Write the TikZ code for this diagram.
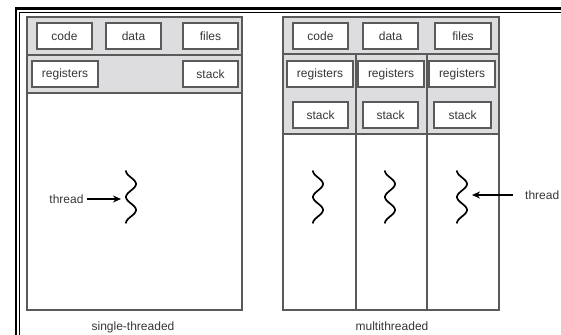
\documentclass[tikz,border=0pt]{standalone}
\usepackage{fontspec}
\setmainfont{Liberation Sans}
\usepackage{xcolor}
\definecolor{Black}{RGB}{0,0,0}
\definecolor{White}{RGB}{255,255,255}
\definecolor{Shade}{RGB}{221,221,224}
\definecolor{Edge}{RGB}{90,90,90}
\definecolor{Ink}{RGB}{55,55,55}
\usetikzlibrary{arrows.meta}
\tikzset{
	part/.style={draw=Edge, fill=White, line width=0.45mm, minimum height=26pt, inner sep=0pt, text=Ink, font=\fontsize{12}{14}\selectfont},
	caption/.style={align=center, text=Ink, font=\fontsize{12}{14}\selectfont},
	wiggle/.style={draw=Black, line width=0.6mm, line cap=round},
	pointer/.style={-{Stealth[length=8pt, width=7pt]}, draw=Black, line width=0.5mm}
}

\begin{document}
\begin{tikzpicture}[x=1pt, y=-1pt]
		
		\useasboundingbox (0,0) rectangle (561,334);
		\fill[White] (0,0) rectangle (561,334);
		
		% Frame
		\draw[-, draw=Black, line width=0.8mm] (16,340) -- (16,8.5) -- (570,8.5);
		\draw[-, draw=Black, line width=0.3mm] (19.8,340) -- (19.8,12) -- (570,12);
		
		% Single-threaded process
		\filldraw[-, fill=Shade, draw=Edge, line width=0.4mm] (27,17) rectangle (242,93);
		\draw[-, draw=Edge, line width=0.4mm] (27,55) -- (242,55);
		\draw[-, draw=Edge, line width=0.4mm] (27,93) rectangle (242,310);
		
		\node[part, minimum width=55pt] (code1) at (64.5,36) {code};
		\node[part, minimum width=55pt] (data1) at (133.5,36) {data};
		\node[part, minimum width=55pt] (files1) at (210.5,36) {files};
		\node[part, minimum width=66pt] (regs1) at (65,74) {registers};
		\node[part, minimum width=55pt] (stack1) at (210.5,74) {stack};
		
		% Multithreaded process
		\filldraw[-, fill=Shade, draw=Edge, line width=0.4mm] (283,17) rectangle (499,134);
		\draw[-, draw=Edge, line width=0.4mm] (283,54) -- (499,54);
		\draw[-, draw=Edge, line width=0.4mm] (283,134) rectangle (499,310);
		\draw[-, draw=Edge, line width=0.4mm] (356,54) -- (356,310);
		\draw[-, draw=Edge, line width=0.4mm] (427,54) -- (427,310);
		
		\node[part, minimum width=55pt] (code2) at (320.5,36) {code};
		\node[part, minimum width=55pt] (data2) at (390.5,36) {data};
		\node[part, minimum width=56pt] (files2) at (463,36) {files};
		
		\node[part, minimum width=66pt] (regsA) at (320,74) {registers};
		\node[part, minimum width=66pt] (regsB) at (391,74) {registers};
		\node[part, minimum width=66pt] (regsC) at (462,74) {registers};
		
		\node[part, minimum width=55pt] (stackA) at (320.5,115) {stack};
		\node[part, minimum width=55pt] (stackB) at (390.5,115) {stack};
		\node[part, minimum width=57pt] (stackC) at (462.5,115) {stack};
		
		% Threads
		\foreach \cx/\nm in {131/one, 318/ta, 390/tb, 462/tc} {
			\draw[wiggle, domain=0:1, samples=60, smooth] plot({\cx-5*cos(\x*720)}, {171+52*\x});
			\coordinate (\nm) at (\cx+6,197);
		}
		
		% Pointers
		\node[caption, anchor=east] (lbl1) at (87,199) {thread};
		\coordinate (tip1) at (121,199);
		\draw[pointer] (lbl1.east) -- (tip1);
		
		\node[caption, anchor=west, inner sep=1pt] (lbl2) at (524,195) {thread};
		\coordinate (tip2) at (472,195);
		\draw[pointer] (lbl2.west) ++(-11,0) -- (tip2);
		
		% Captions
		\node[caption] (single) at (133,327) {single-threaded};
		\node[caption] (multi) at (392,326) {multithreaded};
		
	\end{tikzpicture}
\end{document}
